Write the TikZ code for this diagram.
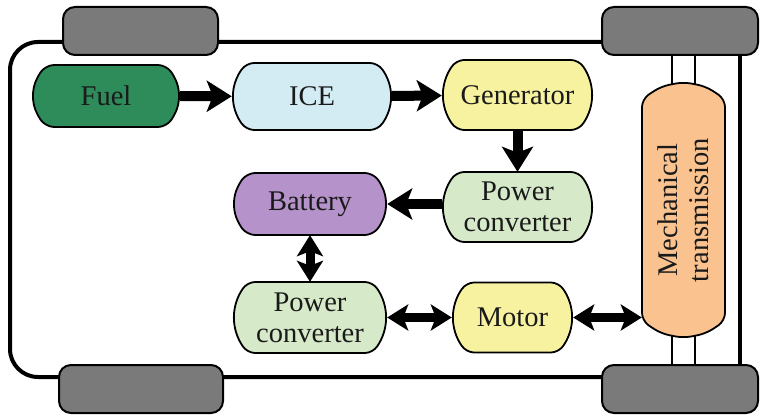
\documentclass[tikz,border=0pt]{standalone}
\usepackage{fontspec}
\setmainfont{Liberation Serif}
\usetikzlibrary{arrows.meta}
\definecolor{fuelcol}{HTML}{2E8B5A}
\definecolor{icecol}{HTML}{D3EBF3}
\definecolor{gencol}{HTML}{F7F2A0}
\definecolor{pccol}{HTML}{D6E9C9}
\definecolor{batcol}{HTML}{B592C9}
\definecolor{transcol}{HTML}{F9C28F}
\definecolor{wheelcol}{HTML}{7A7A7A}
\definecolor{txtcol}{HTML}{1A1A1A}
\tikzset{
  blkline/.style={draw=black, line width=1.8pt, rounded corners=8pt},
  blktext/.style={rectangle, inner sep=0pt, align=center, font=\fontsize{28.5}{31}\selectfont, text=txtcol},
  wheel/.style={rectangle, rounded corners=12pt, draw=black, line width=2pt, fill=wheelcol,
    minimum height=48pt, inner sep=0pt},
  bigarrow/.style={line width=10pt, -{Stealth[length=25pt,width=31pt,inset=6pt]}},
  dblarrow/.style={line width=9pt, {Stealth[length=21pt,width=26pt,inset=5pt]}-{Stealth[length=21pt,width=26pt,inset=5pt]}},
}
% #1 name, #2 x, #3 y, #4 width, #5 height, #6 bulge, #7 colour, #8 rotation, #9 text
\newcommand\drawblk[9]{%
  \pgfmathsetmacro\bha{#4/2}%
  \pgfmathsetmacro\bhb{#5/2}%
  \pgfmathsetmacro\bR{(#6*#6+\bhb*\bhb)/(2*#6)}%
  \pgfmathsetmacro\bang{asin(\bhb/\bR)/2}%
  \pgfmathsetmacro\bxo{\bR*(1-cos(\bang))}%
  \pgfmathsetmacro\byo{\bR*sin(\bang)}%
  \draw[blkline, fill=#7, shift={(#2,#3)}, rotate=#8]
    (0,\bhb) -- ({\bha-#6},\bhb) -- ({\bha-\bxo},\byo) -- (\bha,0) -- ({\bha-\bxo},-\byo)
    -- ({\bha-#6},-\bhb) -- ({-\bha+#6},-\bhb) -- ({-\bha+\bxo},-\byo) -- (-\bha,0)
    -- ({-\bha+\bxo},\byo) -- ({-\bha+#6},\bhb) -- cycle;
  \node[blktext, rotate=#8, minimum width=#4pt, minimum height=#5pt] (#1) at (#2,#3) {#9};
}
\begin{document}
\begin{tikzpicture}[x=1pt,y=1pt]
\useasboundingbox (0,0) rectangle (760,415);
% chassis
\draw[line width=4pt, rounded corners=28pt] (640,373) -- (10,373) -- (10,38) -- (640,38);
\draw[line width=4pt] (740,373) -- (740,38);
\draw[line width=1.6pt] (672,373) -- (672,38);
\draw[line width=1.6pt] (695,373) -- (695,38);
% wheels
\node[wheel, minimum width=155pt] (wtl) at (140.5,384) {};
\node[wheel, minimum width=156pt] (wtr) at (680,384) {};
\node[wheel, minimum width=164pt] (wbl) at (141,26) {};
\node[wheel, minimum width=156pt] (wbr) at (680,26) {};
% blocks
\drawblk{fuel}{106}{319}{148}{62}{14}{fuelcol}{0}{Fuel}
\drawblk{ice}{312}{318.5}{160}{67}{14}{icecol}{0}{ICE}
\drawblk{gen}{517.5}{320}{151}{70}{14}{gencol}{0}{Generator}
\drawblk{pca}{517.5}{208}{151}{70}{14}{pccol}{0}{Power\\converter}
\drawblk{bat}{310}{211}{154}{62}{14}{batcol}{0}{Battery}
\drawblk{pcb}{310}{97.5}{154}{71}{14}{pccol}{0}{Power\\converter}
\drawblk{mot}{512.5}{97.5}{121}{70}{14}{gencol}{0}{Motor}
\drawblk{trans}{683.5}{205}{256}{83}{17}{transcol}{90}{Mechanical\\transmission}
% arrows
\draw[bigarrow] (fuel) -- (ice);
\draw[bigarrow] (ice) -- (gen);
\draw[bigarrow] (gen) -- (pca);
\draw[bigarrow] (pca.west |- bat.east) -- (bat.east);
\draw[dblarrow] (bat) -- (pcb);
\draw[dblarrow] (pcb) -- (mot);
\draw[dblarrow] (mot.east) -- (trans.north |- mot.east);
\end{tikzpicture}
\end{document}
